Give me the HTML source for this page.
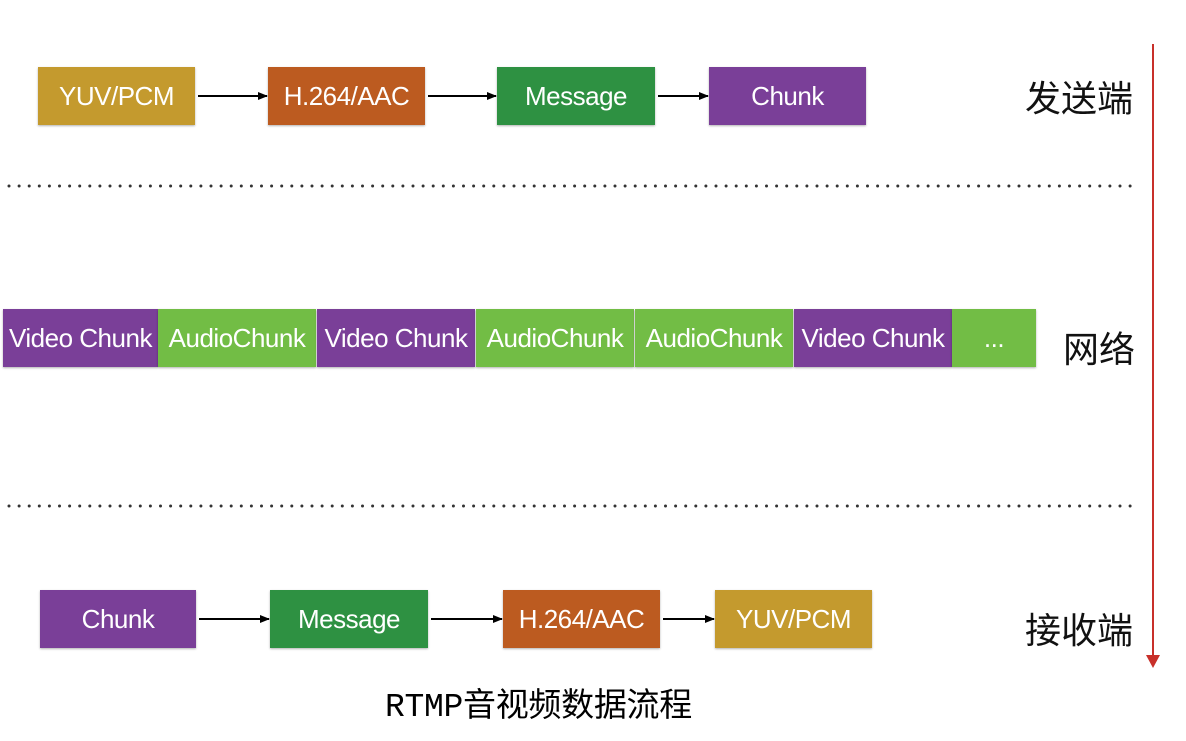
<!DOCTYPE html>
<html><head><meta charset="utf-8"><style>
body{margin:0;width:1186px;height:741px;background:#fff;position:relative;overflow:hidden;font-family:"Liberation Sans","Noto Sans CJK SC",sans-serif}
.b{position:absolute;height:58px;color:#fff;font-size:26px;display:flex;align-items:center;justify-content:center;box-shadow:0 1px 2px rgba(0,0,0,.3);white-space:nowrap;letter-spacing:-0.5px}
.g{background:#C49A2E}.o{background:#BC5B20}.m{background:#2E9142}.p{background:#7A3F98}.l{background:#72BD45}
.t{position:absolute;font-size:36px;color:#111;font-family:"Noto Sans CJK SC",sans-serif;line-height:1}
</style></head><body>
<div class="b g" style="left:38px;top:67px;width:157px">YUV/PCM</div>
<div class="b o" style="left:268px;top:67px;width:157px">H.264/AAC</div>
<div class="b m" style="left:497px;top:67px;width:158px">Message</div>
<div class="b p" style="left:709px;top:67px;width:157px">Chunk</div>

<div class="b p" style="left:3px;top:309px;width:155px">Video Chunk</div>
<div class="b l" style="left:158px;top:309px;width:158px">AudioChunk</div>
<div class="b p" style="left:317px;top:309px;width:158px">Video Chunk</div>
<div class="b l" style="left:476px;top:309px;width:158px">AudioChunk</div>
<div class="b l" style="left:635px;top:309px;width:158px">AudioChunk</div>
<div class="b p" style="left:794px;top:309px;width:158px">Video Chunk</div>
<div class="b l" style="left:952px;top:309px;width:84px">...</div>

<div class="b p" style="left:40px;top:590px;width:156px">Chunk</div>
<div class="b m" style="left:270px;top:590px;width:158px">Message</div>
<div class="b o" style="left:503px;top:590px;width:157px">H.264/AAC</div>
<div class="b g" style="left:715px;top:590px;width:157px">YUV/PCM</div>

<svg width="1186" height="741" style="position:absolute;left:0;top:0">
<defs><marker id="a" markerWidth="10" markerHeight="10" refX="9" refY="5" orient="auto" markerUnits="userSpaceOnUse"><path d="M0,1 L10,5 L0,9z" fill="#000"/></marker></defs>
<g stroke="#000" stroke-width="2" marker-end="url(#a)">
<line x1="198" y1="96" x2="267" y2="96"/><line x1="428" y1="96" x2="496" y2="96"/><line x1="658" y1="96" x2="708" y2="96"/>
<line x1="199" y1="619" x2="269" y2="619"/><line x1="431" y1="619" x2="502" y2="619"/><line x1="663" y1="619" x2="714" y2="619"/>
</g>
<g stroke="#333" stroke-width="3" stroke-dasharray="0 10.1" stroke-linecap="round">
<line x1="9" y1="186" x2="1135" y2="186"/><line x1="9" y1="506" x2="1135" y2="506"/>
</g>
<line x1="1153" y1="44" x2="1153" y2="656" stroke="#C8302A" stroke-width="2"/>
<path d="M1146,655 L1160,655 L1153,668z" fill="#C8302A"/>
</svg>
<div class="t" style="left:1025px;top:78px">发送端</div>
<div class="t" style="left:1063px;top:329px">网络</div>
<div class="t" style="left:1025px;top:610px">接收端</div>
<div style="position:absolute;left:385px;top:690px;font-size:33px;line-height:1.1;font-family:'Liberation Mono','Noto Sans CJK SC',monospace;color:#000;white-space:nowrap;letter-spacing:-0.3px">RTMP音视频数据流程</div>
</body></html>
